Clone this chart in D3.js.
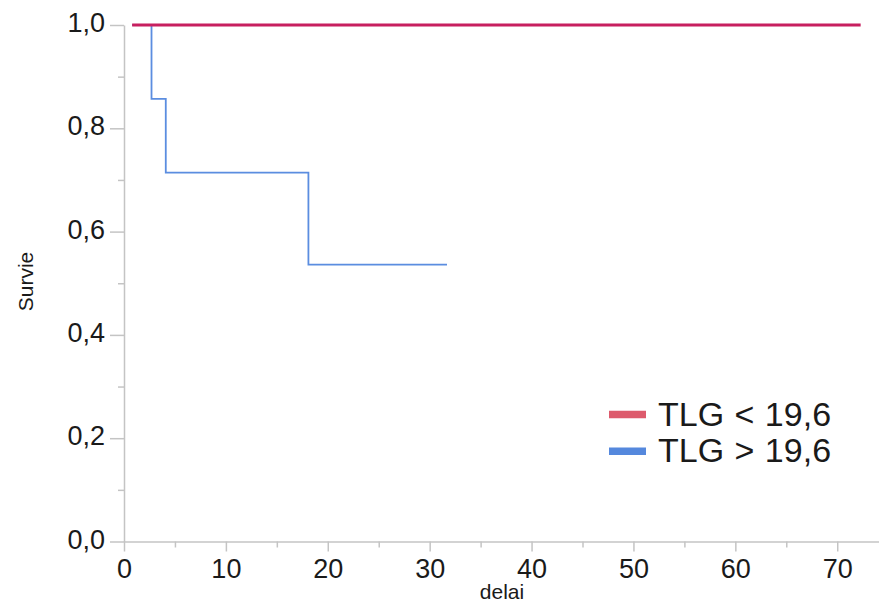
<!DOCTYPE html>
<html>
<head>
<meta charset="utf-8">
<script src="https://cdn.jsdelivr.net/npm/d3@7"></script>
<style>
  body { margin: 0; background: #fff; }
  svg { display: block; font-family: "Liberation Sans", Arial, sans-serif; }
</style>
</head>
<body>
<svg id="chart" width="879" height="603"></svg>
<script>
// series: time (delai) and survival estimate
let lowTimes = [0.8, 72.3];
let lowSurv = [1.0, 1.0];
let highTimes = [0.8, 2.7, 4.1, 18.1, 31.7];
let highSurv = [1.0, 0.857, 0.714, 0.536, 0.536];

let seriesNames = ["TLG < 19,6", "TLG > 19,6"];
let xTicks = [0, 10, 20, 30, 40, 50, 60, 70];
let xMinor = [5, 15, 25, 35, 45, 55, 65];
let yTicks = [0, 0.2, 0.4, 0.6, 0.8, 1.0];
let yMinor = [0.1, 0.3, 0.5, 0.7, 0.9];

var svg = d3.select("#chart");
var axisCol = "#c4c4c4";

var x = d3.scaleLinear().domain([0, 74.1]).range([124, 879]);
var y = d3.scaleLinear().domain([0, 1]).range([541.5, 25]);

var fmt = function(d) { return d3.format(".1f")(d).replace(".", ","); };

// minor ticks
svg.append("g")
    .attr("transform", "translate(124,0)")
    .call(d3.axisLeft(y).tickValues(yMinor).tickSize(6).tickFormat(""))
    .call(g => g.select(".domain").remove())
    .selectAll("line").attr("stroke", axisCol).attr("stroke-width", 1.5);

svg.append("g")
    .attr("transform", "translate(0,541.5)")
    .call(d3.axisBottom(x).tickValues(xMinor).tickSize(6).tickFormat(""))
    .call(g => g.select(".domain").remove())
    .selectAll("line").attr("stroke", axisCol).attr("stroke-width", 1.5);

// y axis
var gy = svg.append("g")
    .attr("transform", "translate(124,0)")
    .call(d3.axisLeft(y).tickValues(yTicks).tickSize(14).tickPadding(5).tickFormat(fmt).tickSizeOuter(0));
gy.select(".domain").attr("stroke", axisCol).attr("stroke-width", 1.5);
gy.selectAll("line").attr("stroke", axisCol).attr("stroke-width", 1.5);
gy.selectAll("text")
    .attr("font-size", "27px")
    .attr("font-family", "Liberation Sans, Arial, sans-serif")
    .attr("fill", "#1a1a1a")
    .attr("dy", "6.5");

// x axis
var gx = svg.append("g")
    .attr("transform", "translate(0,541.5)")
    .call(d3.axisBottom(x).tickValues(xTicks).tickSize(10).tickFormat(d3.format("d")).tickSizeOuter(0));
gx.select(".domain").attr("stroke", axisCol).attr("stroke-width", 1.5);
gx.selectAll("line").attr("stroke", axisCol).attr("stroke-width", 1.5);
gx.selectAll("text")
    .attr("font-size", "27px")
    .attr("font-family", "Liberation Sans, Arial, sans-serif")
    .attr("fill", "#1a1a1a")
    .attr("y", 36)
    .attr("dy", 0);

// axis titles
svg.append("text")
    .attr("x", 502)
    .attr("y", 599)
    .attr("text-anchor", "middle")
    .attr("font-size", "21px")
    .attr("fill", "#1a1a1a")
    .text("delai");

svg.append("text")
    .attr("transform", "translate(33,281.5) rotate(-90)")
    .attr("text-anchor", "middle")
    .attr("font-size", "21px")
    .attr("fill", "#1a1a1a")
    .text("Survie");

// survival curves
var line = d3.line()
    .x(function(d) { return x(d[0]); })
    .y(function(d) { return y(d[1]); })
    .curve(d3.curveStepAfter);

svg.append("path")
    .datum(d3.zip(highTimes, highSurv))
    .attr("fill", "none")
    .attr("stroke", "#5b8de0")
    .attr("stroke-width", 1.8)
    .attr("d", line);

svg.append("path")
    .datum(d3.zip(lowTimes, lowSurv))
    .attr("fill", "none")
    .attr("stroke", "#c71f5f")
    .attr("stroke-width", 3)
    .attr("d", line);

// legend
var legCols = ["#dd5a6c", "#5588dd"];
var leg = svg.append("g");
seriesNames.forEach(function(name, i) {
    var yy = 414.5 + i * 36.7;
    leg.append("line")
        .attr("x1", 609).attr("x2", 646)
        .attr("y1", yy).attr("y2", yy)
        .attr("stroke", legCols[i])
        .attr("stroke-width", 7.5);
    leg.append("text")
        .attr("x", 658)
        .attr("y", yy + 11)
        .attr("font-size", "34px")
        .attr("word-spacing", "1px")
        .attr("fill", "#1a1a1a")
        .text(name);
});
</script>
</body>
</html>
